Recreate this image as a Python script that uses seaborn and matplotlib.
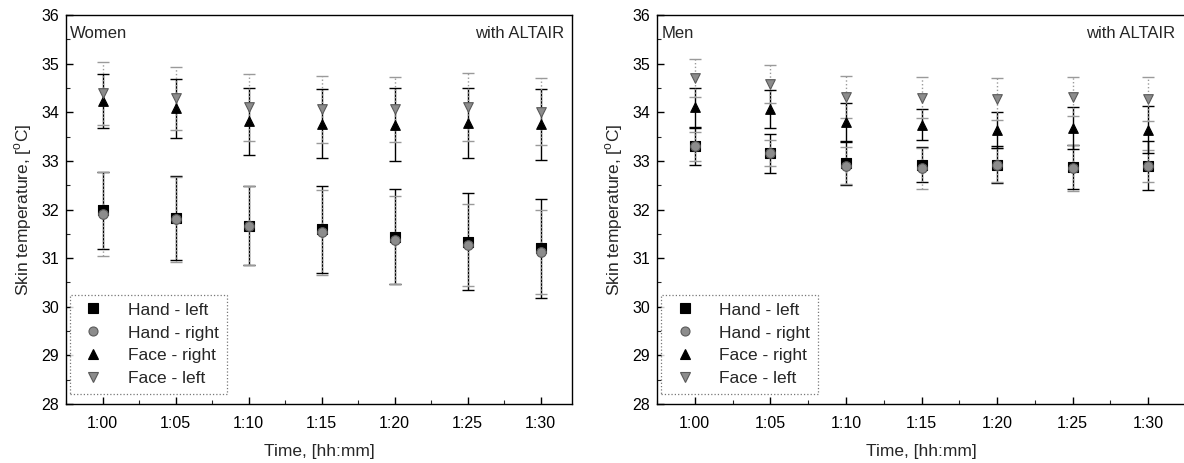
import numpy as np
import pandas as pd
import matplotlib
matplotlib.use("Agg")
import matplotlib.pyplot as plt
from matplotlib.lines import Line2D
from matplotlib.ticker import MultipleLocator
import seaborn as sns

# ---------------- data ----------------
times = ["1:00", "1:05", "1:10", "1:15", "1:20", "1:25", "1:30"]
series = ["Hand - left", "Hand - right", "Face - right", "Face - left"]

# Women (means and SD)
w_hand_left = [31.98, 31.82, 31.67, 31.59, 31.44, 31.34, 31.20]
w_hand_left_sd = [0.80, 0.86, 0.81, 0.90, 0.98, 0.99, 1.02]
w_hand_right = [31.91, 31.80, 31.67, 31.53, 31.37, 31.27, 31.13]
w_hand_right_sd = [0.87, 0.87, 0.81, 0.87, 0.90, 0.85, 0.86]
w_face_right = [34.23, 34.08, 33.81, 33.76, 33.74, 33.77, 33.75]
w_face_right_sd = [0.55, 0.60, 0.69, 0.71, 0.75, 0.72, 0.73]
w_face_left = [34.39, 34.29, 34.10, 34.06, 34.06, 34.10, 34.01]
w_face_left_sd = [0.65, 0.65, 0.69, 0.69, 0.67, 0.70, 0.69]

# Men (means and SD)
m_hand_left = [33.30, 33.16, 32.95, 32.92, 32.92, 32.87, 32.90]
m_hand_left_sd = [0.38, 0.40, 0.45, 0.36, 0.38, 0.45, 0.50]
m_hand_right = [33.30, 33.16, 32.90, 32.85, 32.92, 32.85, 32.90]
m_hand_right_sd = [0.30, 0.27, 0.38, 0.42, 0.35, 0.47, 0.33]
m_face_right = [34.10, 34.06, 33.79, 33.74, 33.64, 33.67, 33.64]
m_face_right_sd = [0.40, 0.39, 0.40, 0.32, 0.37, 0.43, 0.48]
m_face_left = [34.70, 34.58, 34.32, 34.30, 34.27, 34.32, 34.27]
m_face_left_sd = [0.39, 0.39, 0.43, 0.42, 0.43, 0.40, 0.45]

panels = {
    "Women": {
        "Hand - left": (w_hand_left, w_hand_left_sd),
        "Hand - right": (w_hand_right, w_hand_right_sd),
        "Face - right": (w_face_right, w_face_right_sd),
        "Face - left": (w_face_left, w_face_left_sd),
    },
    "Men": {
        "Hand - left": (m_hand_left, m_hand_left_sd),
        "Hand - right": (m_hand_right, m_hand_right_sd),
        "Face - right": (m_face_right, m_face_right_sd),
        "Face - left": (m_face_left, m_face_left_sd),
    },
}

# ---------------- style ----------------
sns.set_style("ticks")
plt.rcParams["font.family"] = ["Liberation Sans", "DejaVu Sans"]
plt.rcParams["mathtext.fontset"] = "custom"
plt.rcParams["mathtext.rm"] = "Liberation Sans"

GRAY = "#8c8c8c"
GRAY_EDGE = "#5a5a5a"
face_colors = {"Hand - left": "black", "Hand - right": GRAY,
               "Face - right": "black", "Face - left": GRAY}
edge_colors = {"Hand - left": "black", "Hand - right": GRAY_EDGE,
               "Face - right": "black", "Face - left": GRAY_EDGE}
markers = {"Hand - left": "s", "Hand - right": "o",
           "Face - right": "^", "Face - left": "v"}
err_style = {"Hand - left": ("black", "-"), "Hand - right": ("#9a9a9a", ":"),
             "Face - right": ("black", "-"), "Face - left": ("#9a9a9a", ":")}

W, H = 1184, 463
fig = plt.figure(figsize=(W / 100, H / 100), dpi=100)
ax_w = fig.add_axes([66 / W, (H - 404) / H, (572 - 66) / W, (404 - 15) / H])
ax_m = fig.add_axes([657 / W, (H - 404) / H, (1186 - 657) / W, (404 - 15) / H])

xpos = np.arange(len(times))

for name, ax, xlim in [("Women", ax_w, (-0.5, 6.43)), ("Men", ax_m, (-0.5, 6.5))]:
    rows = []
    for s in series:
        means, sds = panels[name][s]
        for i, (m, sd) in enumerate(zip(means, sds)):
            rows.append({"x": xpos[i], "temp": m, "sd": sd, "series": s})
    df = pd.DataFrame(rows)

    for s in series:
        d = df[df["series"] == s]
        col, ls = err_style[s]
        eb = ax.errorbar(d["x"], d["temp"], yerr=d["sd"], fmt="none",
                         ecolor=col, elinewidth=1.0, capsize=4, capthick=1.0,
                         zorder=2)
        for lc in eb[2]:
            lc.set_linestyle(ls)

    for s in series:
        d = df[df["series"] == s]
        sns.scatterplot(data=d, x="x", y="temp", ax=ax, marker=markers[s],
                        color=face_colors[s], edgecolor=edge_colors[s],
                        linewidth=0.8, s=48, legend=False, zorder=3)

    ax.set_xlim(*xlim)
    ax.set_ylim(28, 36)
    ax.set_xticks(xpos)
    ax.set_xticklabels(times)
    ax.xaxis.set_minor_locator(MultipleLocator(0.5))
    ax.yaxis.set_major_locator(MultipleLocator(1))
    ax.yaxis.set_minor_locator(MultipleLocator(0.5))
    ax.tick_params(axis="both", which="major", direction="in", length=5,
                   width=1, labelsize=11.5, colors="black")
    ax.tick_params(axis="both", which="minor", direction="in", length=3, width=0.8)
    ax.tick_params(axis="x", pad=9)
    ax.tick_params(axis="y", pad=5)
    for sp in ax.spines.values():
        sp.set_visible(True)
        sp.set_linewidth(1.0)
        sp.set_color("black")
    ax.set_xlabel("Time, [hh:mm]", fontsize=12.5, labelpad=9)
    ax.set_ylabel("Skin temperature, [$^{\\rm o}$C]", fontsize=12.5, labelpad=5)

    ax.text(0.008, 0.972, name, transform=ax.transAxes, ha="left", va="top",
            fontsize=12)
    rx = 0.985 if name == "Women" else 0.979
    ax.text(rx, 0.972, "with ALTAIR", transform=ax.transAxes, ha="right",
            va="top", fontsize=12)

    handles = [Line2D([], [], linestyle="none", marker=markers[s],
                      markerfacecolor=face_colors[s], markeredgecolor=edge_colors[s],
                      markersize=6.5, markeredgewidth=0.8) for s in series]
    leg = ax.legend(handles, series, loc="lower left", bbox_to_anchor=(0.008, 0.025),
                    frameon=True, fancybox=False, fontsize=12.5, handletextpad=1.1,
                    borderpad=0.45, labelspacing=0.45, handlelength=1.8,
                    borderaxespad=0.0)
    leg.get_frame().set_edgecolor("#555555")
    leg.get_frame().set_linewidth(0.9)
    leg.get_frame().set_linestyle(":")

fig.savefig("out.png", dpi=100)
